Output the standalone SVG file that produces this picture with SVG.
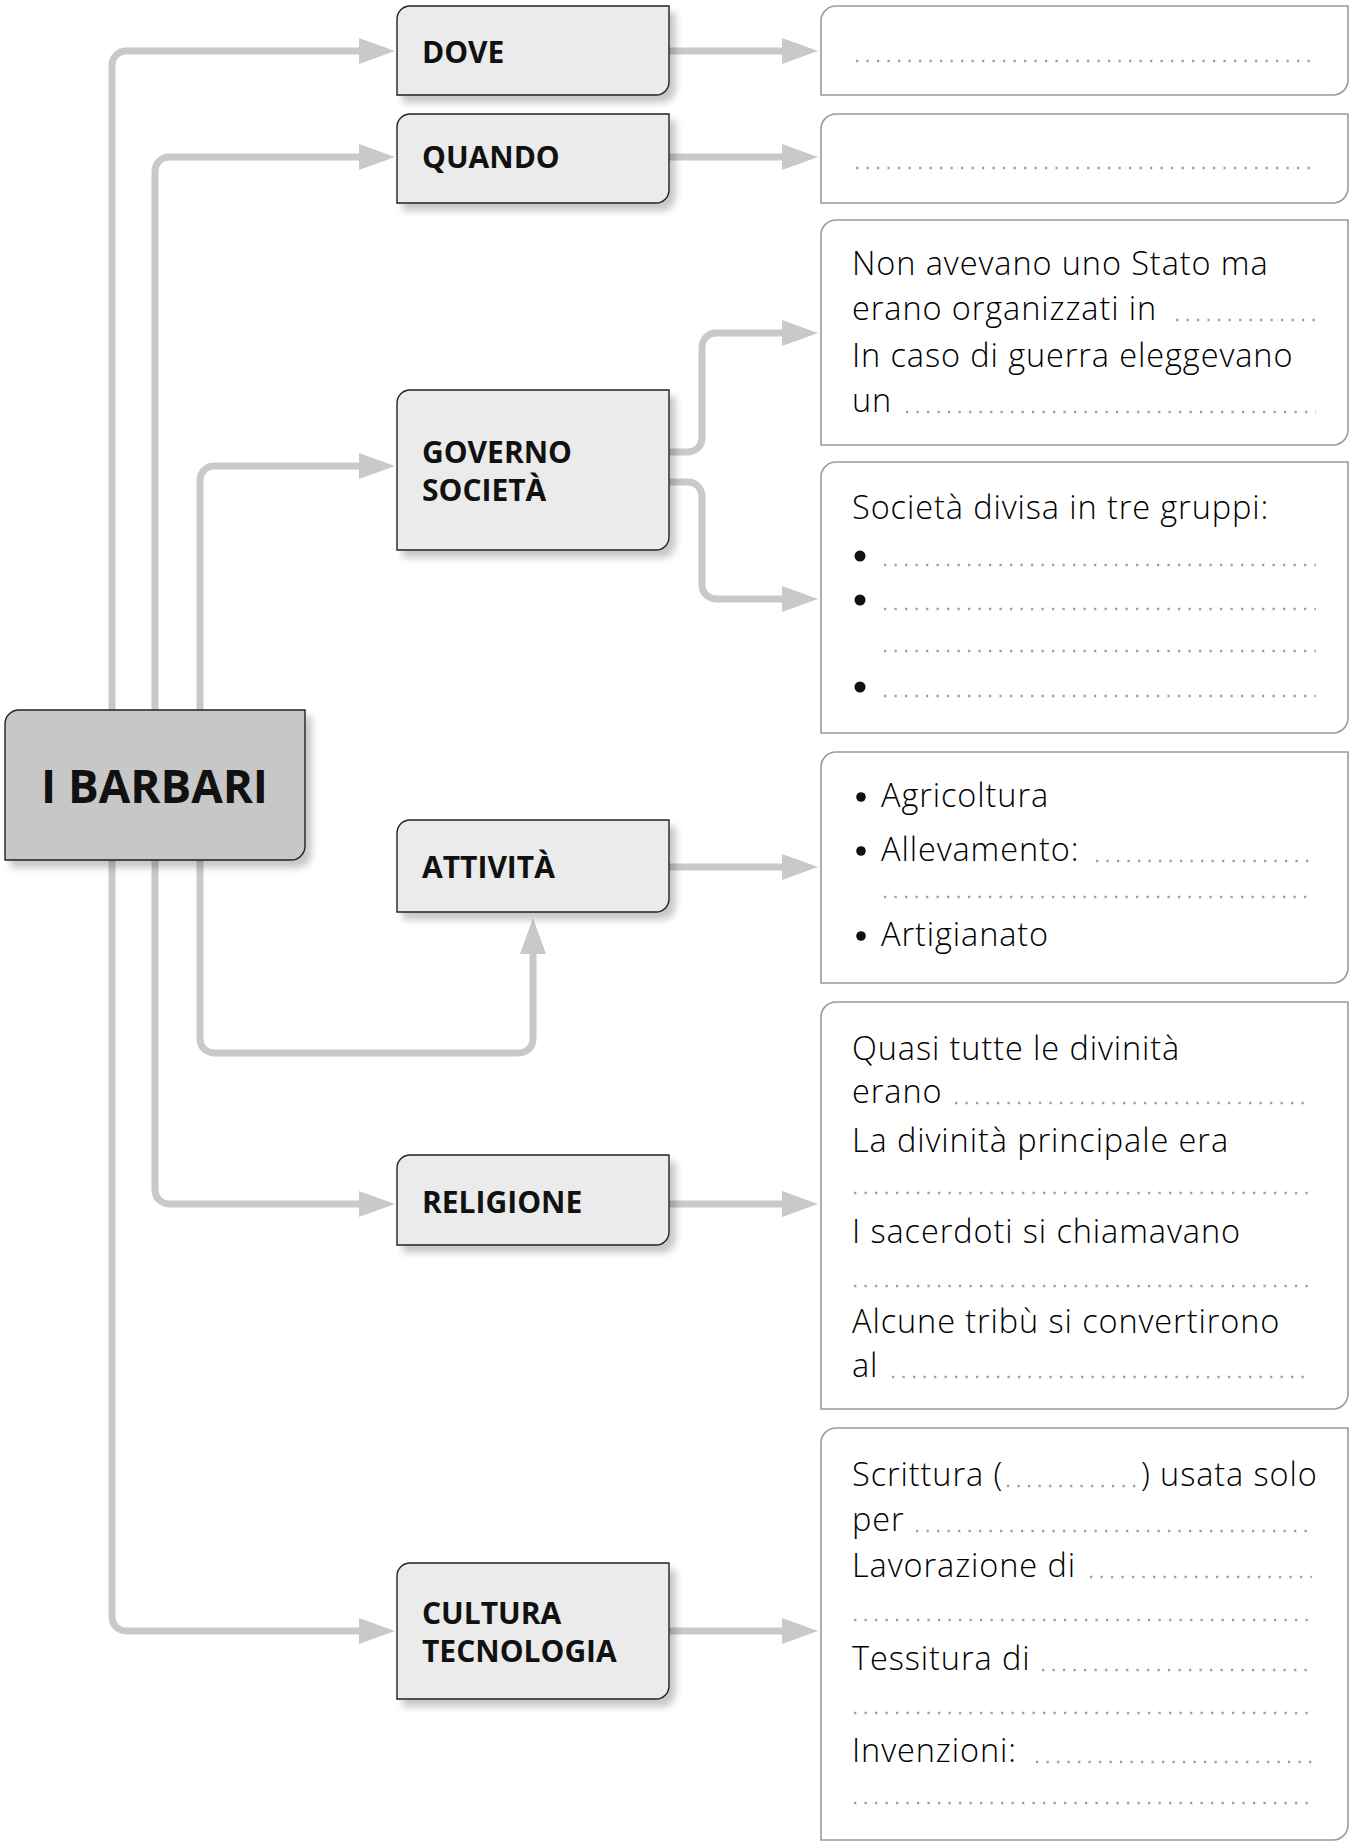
<svg xmlns="http://www.w3.org/2000/svg" width="1350" height="1843" viewBox="0 0 1350 1843">
  <style>
    .conn { fill: none; stroke: #c8c9c8; stroke-width: 7; marker-end: url(#arrow); }
    .node { fill: #ebebeb; stroke: #222; stroke-width: 1.4; filter: url(#shadow); }
    .root { fill: #c6c7c6; stroke: #222; stroke-width: 1.4; filter: url(#shadow); }
    .box { fill: #fff; stroke: #9a9a9a; stroke-width: 1.6; }
    .lbl { font-family: "Open Sans", "Liberation Sans", sans-serif; font-weight: 700; font-size: 30px; fill: #111; }
    .big { font-family: "Open Sans", "Liberation Sans", sans-serif; font-weight: 700; font-size: 46px; fill: #111; }
    .txt { font-family: "Open Sans", "Liberation Sans", sans-serif; font-weight: 300; font-size: 32.5px; fill: #000; letter-spacing: 0.9px; }
    .dots { stroke: #a0a0a0; stroke-width: 2.3; stroke-dasharray: 2.3 8.2; fill: none; }
    .bul { fill: #111; }
  </style>
  <defs>
    <marker id="arrow" viewBox="0 0 36 26" markerWidth="36" markerHeight="26" refX="0" refY="13" markerUnits="userSpaceOnUse" orient="auto">
      <path d="M0,0 L36,13 L0,26 Z" fill="#c8c9c8"/>
    </marker>
    <filter id="shadow" x="-10%" y="-10%" width="130%" height="140%">
      <feGaussianBlur in="SourceAlpha" stdDeviation="3.5"/>
      <feOffset dx="6" dy="7" result="b"/>
      <feFlood flood-color="#000" flood-opacity="0.22"/>
      <feComposite in2="b" operator="in"/>
      <feMerge><feMergeNode/><feMergeNode in="SourceGraphic"/></feMerge>
    </filter>
  </defs>

  <rect width="1350" height="1843" fill="#fff"/>

  <!-- connectors -->
  <g id="connectors">
    <path class="conn" d="M112,720 V65 A14,14 0 0 1 126,51 H359"/>
    <path class="conn" d="M112,850 V1617 A14,14 0 0 0 126,1631 H359"/>
    <path class="conn" d="M155,720 V171 A14,14 0 0 1 169,157 H359"/>
    <path class="conn" d="M155,850 V1190 A14,14 0 0 0 169,1204 H359"/>
    <path class="conn" d="M200,720 V480 A14,14 0 0 1 214,466 H359"/>
    <path class="conn" d="M200,850 V1039 A14,14 0 0 0 214,1053 H519 A14,14 0 0 0 533,1039 V954"/>
    <path class="conn" d="M669,51 H782"/>
    <path class="conn" d="M669,157 H782"/>
    <path class="conn" d="M669,452 H688 A14,14 0 0 0 702,438 V347 A14,14 0 0 1 716,333 H782"/>
    <path class="conn" d="M669,482 H688 A14,14 0 0 1 702,496 V585 A14,14 0 0 0 716,599 H782"/>
    <path class="conn" d="M669,867 H782"/>
    <path class="conn" d="M669,1204 H782"/>
    <path class="conn" d="M669,1631 H782"/>
  </g>

  <!-- central node -->
  <g id="barbari">
    <path class="root" d="M19,710 H305 V846 A14,14 0 0 1 291,860 H5 V724 A14,14 0 0 1 19,710 Z"/>
    <text class="big" x="41" y="803" textLength="227" lengthAdjust="spacingAndGlyphs">I BARBARI</text>
  </g>

  <!-- topic nodes -->
  <g id="dove">
    <path class="node" d="M410,6 H669 V82 A13,13 0 0 1 656,95 H397 V19 A13,13 0 0 1 410,6 Z"/>
    <text class="lbl" x="422" y="63">DOVE</text>
  </g>
  <g id="quando">
    <path class="node" d="M410,114 H669 V190 A13,13 0 0 1 656,203 H397 V127 A13,13 0 0 1 410,114 Z"/>
    <text class="lbl" x="422" y="168">QUANDO</text>
  </g>
  <g id="governo">
    <path class="node" d="M410,390 H669 V537 A13,13 0 0 1 656,550 H397 V403 A13,13 0 0 1 410,390 Z"/>
    <text class="lbl" x="422" y="463">GOVERNO</text>
    <text class="lbl" x="422" y="501">SOCIETÀ</text>
  </g>
  <g id="attivita">
    <path class="node" d="M410,820 H669 V899 A13,13 0 0 1 656,912 H397 V833 A13,13 0 0 1 410,820 Z"/>
    <text class="lbl" x="422" y="878">ATTIVITÀ</text>
  </g>
  <g id="religione">
    <path class="node" d="M410,1155 H669 V1232 A13,13 0 0 1 656,1245 H397 V1168 A13,13 0 0 1 410,1155 Z"/>
    <text class="lbl" x="422" y="1213">RELIGIONE</text>
  </g>
  <g id="cultura">
    <path class="node" d="M410,1563 H669 V1686 A13,13 0 0 1 656,1699 H397 V1576 A13,13 0 0 1 410,1563 Z"/>
    <text class="lbl" x="422" y="1624">CULTURA</text>
    <text class="lbl" x="422" y="1662">TECNOLOGIA</text>
  </g>

  <!-- answer boxes -->
  <g id="box-dove">
    <path class="box" d="M836,6 H1348 V80 A15,15 0 0 1 1333,95 H821 V21 A15,15 0 0 1 836,6 Z"/>
    <line class="dots" x1="856" y1="61" x2="1318" y2="61"/>
  </g>
  <g id="box-quando">
    <path class="box" d="M836,114 H1348 V188 A15,15 0 0 1 1333,203 H821 V129 A15,15 0 0 1 836,114 Z"/>
    <line class="dots" x1="856" y1="168" x2="1318" y2="168"/>
  </g>
  <g id="box-governo">
    <path class="box" d="M836,220 H1348 V430 A15,15 0 0 1 1333,445 H821 V235 A15,15 0 0 1 836,220 Z"/>
    <text class="txt" x="852" y="275">Non avevano uno Stato ma</text>
    <text class="txt" x="852" y="320">erano organizzati in</text>
    <line class="dots" x1="1176" y1="320" x2="1316" y2="320"/>
    <text class="txt" x="852" y="367">In caso di guerra eleggevano</text>
    <text class="txt" x="852" y="412">un</text>
    <line class="dots" x1="906" y1="412" x2="1316" y2="412"/>
  </g>
  <g id="box-societa">
    <path class="box" d="M836,462 H1348 V718 A15,15 0 0 1 1333,733 H821 V477 A15,15 0 0 1 836,462 Z"/>
    <text class="txt" x="852" y="519">Società divisa in tre gruppi:</text>
    <circle class="bul" cx="860" cy="556" r="5.5"/>
    <line class="dots" x1="884" y1="565" x2="1316" y2="565"/>
    <circle class="bul" cx="860" cy="600" r="5.5"/>
    <line class="dots" x1="884" y1="609" x2="1316" y2="609"/>
    <line class="dots" x1="884" y1="651" x2="1316" y2="651"/>
    <circle class="bul" cx="860" cy="687" r="5.5"/>
    <line class="dots" x1="884" y1="696" x2="1316" y2="696"/>
  </g>
  <g id="box-attivita">
    <path class="box" d="M836,752 H1348 V968 A15,15 0 0 1 1333,983 H821 V767 A15,15 0 0 1 836,752 Z"/>
    <circle class="bul" cx="861" cy="797" r="4.8"/>
    <text class="txt" x="881" y="807">Agricoltura</text>
    <circle class="bul" cx="861" cy="851" r="4.8"/>
    <text class="txt" x="881" y="861">Allevamento:</text>
    <line class="dots" x1="1096" y1="861" x2="1312" y2="861"/>
    <line class="dots" x1="884" y1="897" x2="1312" y2="897"/>
    <circle class="bul" cx="861" cy="936" r="4.8"/>
    <text class="txt" x="881" y="946">Artigianato</text>
  </g>
  <g id="box-religione">
    <path class="box" d="M836,1002 H1348 V1394 A15,15 0 0 1 1333,1409 H821 V1017 A15,15 0 0 1 836,1002 Z"/>
    <text class="txt" x="852" y="1060">Quasi tutte le divinità</text>
    <text class="txt" x="852" y="1103">erano</text>
    <line class="dots" x1="955" y1="1103" x2="1308" y2="1103"/>
    <text class="txt" x="852" y="1152">La divinità principale era</text>
    <line class="dots" x1="854" y1="1193" x2="1316" y2="1193"/>
    <text class="txt" x="852" y="1243">I sacerdoti si chiamavano</text>
    <line class="dots" x1="854" y1="1286" x2="1316" y2="1286"/>
    <text class="txt" x="852" y="1333">Alcune tribù si convertirono</text>
    <text class="txt" x="852" y="1377">al</text>
    <line class="dots" x1="892" y1="1377" x2="1308" y2="1377"/>
  </g>
  <g id="box-cultura">
    <path class="box" d="M836,1428 H1348 V1825 A15,15 0 0 1 1333,1840 H821 V1443 A15,15 0 0 1 836,1428 Z"/>
    <text class="txt" x="852" y="1486">Scrittura (</text>
    <line class="dots" x1="1007" y1="1486" x2="1137" y2="1486"/>
    <text class="txt" x="1141" y="1486">) usata solo</text>
    <text class="txt" x="852" y="1531">per</text>
    <line class="dots" x1="916" y1="1531" x2="1312" y2="1531"/>
    <text class="txt" x="852" y="1577">Lavorazione di</text>
    <line class="dots" x1="1090" y1="1577" x2="1312" y2="1577"/>
    <line class="dots" x1="854" y1="1620" x2="1316" y2="1620"/>
    <text class="txt" x="852" y="1670">Tessitura di</text>
    <line class="dots" x1="1042" y1="1670" x2="1308" y2="1670"/>
    <line class="dots" x1="854" y1="1713" x2="1316" y2="1713"/>
    <text class="txt" x="852" y="1762">Invenzioni:</text>
    <line class="dots" x1="1036" y1="1762" x2="1312" y2="1762"/>
    <line class="dots" x1="854" y1="1803" x2="1316" y2="1803"/>
  </g>
</svg>
